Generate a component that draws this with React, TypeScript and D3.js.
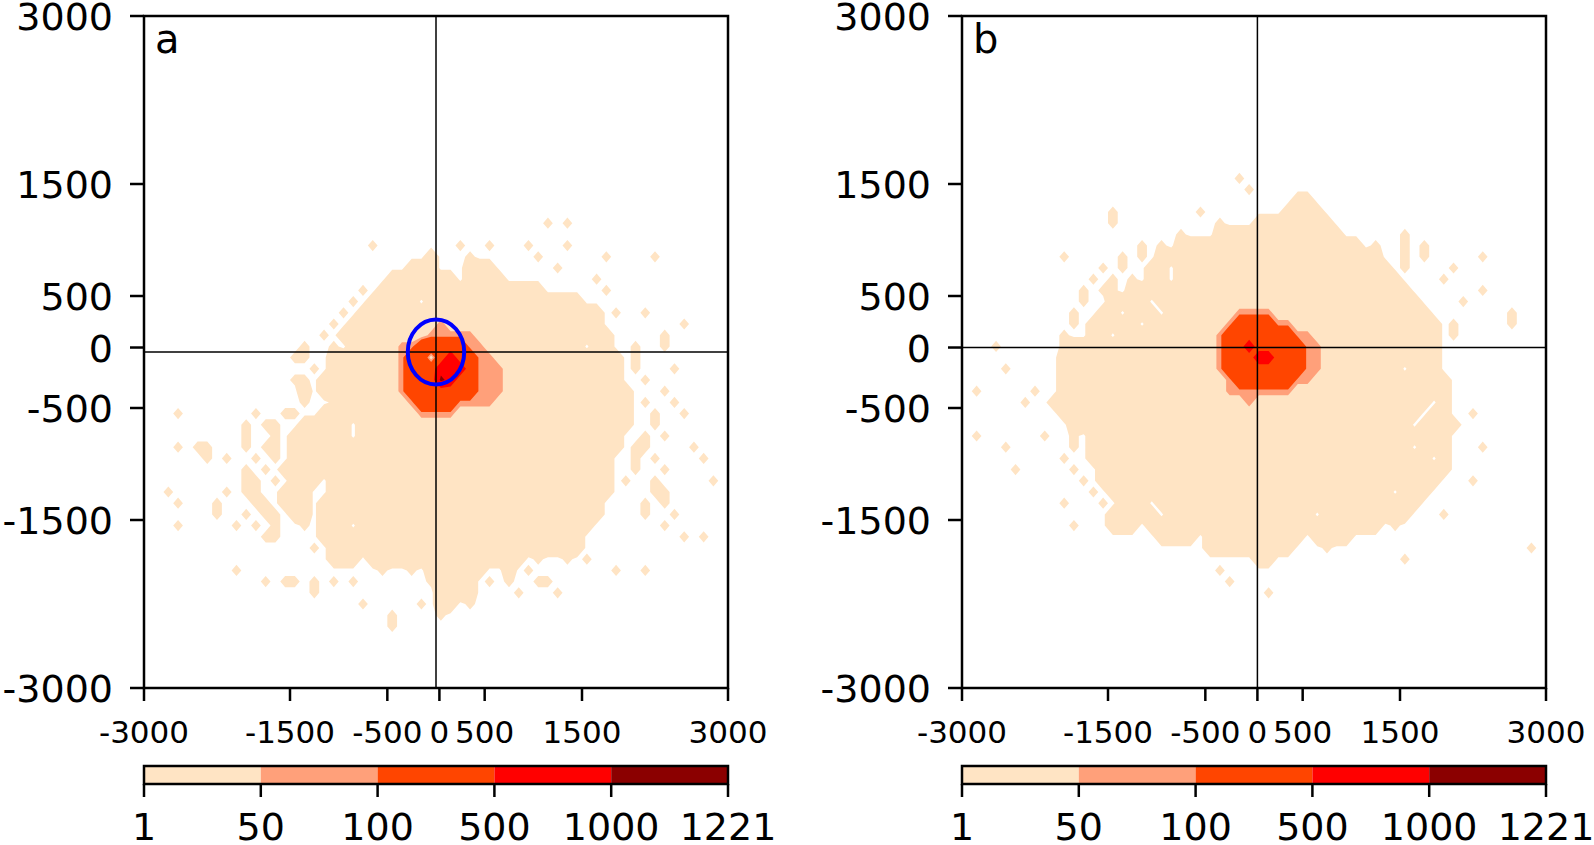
import React from "react";
import * as d3 from "d3";

const W = 1594;
const H = 845;
const N = 60; // 60 x 60 bins of 100 units, from -3000 to 3000

// colour levels shared by both panels and the colour bars
const levels = [1, 50, 100, 500, 1000, 1221];
const levelColors = ["bisque", "lightsalmon", "orangered", "red", "darkred"];

const xTickAt = [-3000, -1500, -500, 35, 500, 1500, 3000];
const xTickLabels = ["-3000", "-1500", "-500", "0", "500", "1500", "3000"];
const yTickAt = [3000, 1500, 500, 40, -500, -1500, -3000];
const yTickLabels = ["3000", "1500", "500", "0", "-500", "-1500", "-3000"];

// bin classes: . empty, 1 a few counts, 2 = 1-50,
// 3 = 50-100, 4 = 100-500, 5 = 500-1000, 6 = above 1000
const binCounts: Record<string, number> = { ".": 0, "1": 2, "2": 6, "3": 75, "4": 250, "5": 850, "6": 1100 };

// [row from the top, "col or col-col : class" runs]
const gridA: [number, string][] = [
  [18, "41:1 43:1"],
  [20, "23:1 32:1 35:1 39:1 43:1"],
  [21, "29:2 33:1 40:1 47:1 52:1"],
  [22, "27-29:2 33-35:2 42:1"],
  [23, "25-31:2 33-36:2 46:1"],
  [24, "22:1 24-40:2 47:1"],
  [25, "21:1 23-27:2 29-44:2"],
  [26, "20:1 22-46:2 48:1 51:1"],
  [27, "19:1 21-29:2 30:3 31-46:2 55:1"],
  [28, "18:1 20-28:2 29-33:3 34-47:2 53:1"],
  [29, "16:1 19:1 21-25:2 26-27:3 28-32:4 33-34:3 35-44:2 46-47:2 50:1 53:1"],
  [30, "15-16:1 19-25:2 26:3 27-28:4 29:2 30:4 31:5 32-33:4 34-35:3 36-48:2 50:1"],
  [31, "17:1 19-25:2 26:3 27-29:4 30-32:5 33:4 34-36:3 37-48:2 50:1 54:1"],
  [32, "15-16:1 18-25:2 26:3 27-29:4 30:6 31:5 32-33:4 34-36:3 37-48:2 51:1"],
  [33, "16:2 18-25:2 26:3 27-33:4 34-36:3 37-49:2 53:1"],
  [34, "16:1 19:1 20-26:2 27:3 28-31:4 32-35:3 36-49:2 51:1 54:1"],
  [35, "3:1 11:1 14-15:1 18-27:2 28-31:3 32-49:2 52:1 55:1"],
  [36, "10:1 12-13:1 16-20:2 22-49:2 52:1"],
  [37, "10:1 13:1 15-20:2 22-48:2 51:1 53:1"],
  [38, "3:1 5-6:1 10:1 12-13:1 15-48:2 50-51:1 56:1"],
  [39, "6:1 8:1 11:1 13:1 15-47:2 50:1 52:1 57:1"],
  [40, "10:1 12:1 14-47:2 50:1 53:1"],
  [41, "10-11:1 13:1 15-17:2 19-47:2 49:1 52:1 58:1"],
  [42, "2:1 8:1 10-11:1 14-16:2 19-47:2 52-53:1"],
  [43, "3:1 7:1 11-12:1 14-16:2 18-46:2 51:1 53:1"],
  [44, "7:1 10:1 12-13:1 15-16:2 18-46:2 51:1 54:1"],
  [45, "3:1 9:1 11:1 13:1 16:1 18-20:2 22-45:2 53:1"],
  [46, "12-13:1 18-44:2 55:1 57:1"],
  [47, "17:1 19-44:2"],
  [48, "19-21:2 23-38:2 40:1 43:1 45:1"],
  [49, "9:1 24:1 27:1 29-34:2 37:2 39:1 48:1 51:1"],
  [50, "12:1 14-15:1 17:1 19:1 21:1 29:1 30-33:2 35:1 37:1 40-41:1"],
  [51, "17:1 30-33:2 38:1 42:1"],
  [52, "22:1 28:1 30-31:2 33:1"],
  [53, "25:1 30:1"],
  [54, "25:1"],
];

const gridB: [number, string][] = [
  [14, "28:1"],
  [15, "29:1"],
  [16, "34-35:2"],
  [17, "15:1 24:1 33-36:2"],
  [18, "15:1 26:1 30-37:2"],
  [19, "22:1 26-38:2 45:1"],
  [20, "18:1 20:1 22-40:2 42:1 45:1 47:1"],
  [21, "10:1 16:1 18:1 20-42:2 45:1 47:1 53:1"],
  [22, "14:1 16:1 19-20:2 22-43:2 45:1 50:1"],
  [23, "13:1 15:1 17:1 19-20:2 22-44:2 49:1"],
  [24, "12:1 14-15:1 17-45:2 53:1"],
  [25, "12:1 15-18:2 20-46:2 51:1"],
  [26, "11:1 14-15:2 17-19:2 21-27:2 28-31:3 32-47:2 56:1"],
  [27, "11:1 13-17:2 19-26:2 27:3 28-31:4 32-33:3 34-48:2 50:1 56:1"],
  [28, "10:1 13-14:2 16-25:2 26:3 27-33:4 34-35:3 36-48:2 50:1"],
  [29, "3:1 10:1 11-25:2 26:3 27-28:4 29:5 30-34:4 35-36:3 37-48:2"],
  [30, "10-25:2 26:3 27-29:4 30-31:5 32-34:4 35-36:3 37-48:2"],
  [31, "4:1 10-25:2 26:3 27-34:4 35-36:3 37-44:2 46-48:2"],
  [32, "10-26:2 27:3 28-33:4 34-35:3 36-49:2"],
  [33, "1:1 7:1 10-26:2 27-33:3 34-49:2"],
  [34, "6:1 9-28:2 29:3 30-47:2 49:2"],
  [35, "10-46:2 48-49:2 52:1"],
  [36, "11-45:2 47-50:2"],
  [37, "1:1 8:1 11:1 13-49:2"],
  [38, "4:1 11:1 13-45:2 47-49:2 53:1"],
  [39, "10:1 13-47:2 49:2"],
  [40, "5:1 11:1 14-49:2"],
  [41, "12:1 14-48:2 52:1"],
  [42, "13:1 15-43:2 45-47:2"],
  [43, "10:1 14:1 16-18:2 20-46:2"],
  [44, "15-19:2 21-35:2 37-45:2 49:1"],
  [45, "11:1 15-17:2 19-42:2 44:1"],
  [46, "20-23:2 25-34:2 36-39:2"],
  [47, "25-33:2 37:1 58:1"],
  [48, "30-31:2 45:1"],
  [49, "26:1"],
  [50, "27:1"],
  [51, "31:1"],
];

const circleA = { x: 0, y: 0, r: 290 };
const crossA = [0, 0];
const crossB = [35, 40];

const FONT = "DejaVu Sans, sans-serif";
const TOP = 16;
const BOTTOM = 688;
const CB_TOP = 766;
const CB_BOTTOM = 784;

function parseGrid(rows: [number, string][]) {
  const values = new Array(N * N).fill(0);
  rows.forEach(([j, spec]) => {
    spec.split(" ").forEach((tok) => {
      const [range, code] = tok.split(":");
      const [a, b] = range.split("-").map(Number);
      for (let i = a; i <= (b ?? a); i++) values[i + j * N] = binCounts[code];
    });
  });
  return values;
}

function Panel({ left, right, grid, label, cross, circle }: any) {
  const sx = d3.scaleLinear().domain([-3000, 3000]).range([left, right]);
  const sy = d3.scaleLinear().domain([-3000, 3000]).range([BOTTOM, TOP]);
  const gx = d3.scaleLinear().domain([0, N]).range([-3000, 3000]);
  const gy = d3.scaleLinear().domain([0, N]).range([3000, -3000]);

  const contours = d3.contours().size([N, N]).thresholds(levels.slice(0, -1))(parseGrid(grid));
  const path = d3.geoPath(
    d3.geoTransform({
      point(x: number, y: number) {
        this.stream.point(sx(gx(x)), sy(gy(y)));
      },
    })
  );

  const cb = d3.scaleLinear().domain([0, levels.length - 1]).range([left, right]);

  return (
    <g>
      {contours.map((c, i) => (
        <path key={i} d={path(c as any) || ""} fill={levelColors[i]} fillRule="evenodd" />
      ))}
      <line x1={sx(cross[0])} x2={sx(cross[0])} y1={TOP} y2={BOTTOM} stroke="black" strokeWidth={1.5} />
      <line x1={left} x2={right} y1={sy(cross[1])} y2={sy(cross[1])} stroke="black" strokeWidth={1.5} />
      {circle && (
        <ellipse
          cx={sx(circle.x)}
          cy={sy(circle.y)}
          rx={sx(circle.r) - sx(0)}
          ry={sy(0) - sy(circle.r)}
          fill="none"
          stroke="#0000ff"
          strokeWidth={4}
        />
      )}
      <rect x={left} y={TOP} width={right - left} height={BOTTOM - TOP} fill="none" stroke="black" strokeWidth={2.5} />
      <text x={left + 11} y={53} fontFamily={FONT} fontSize={40}>
        {label}
      </text>

      {yTickAt.map((v, i) => (
        <g key={"y" + i}>
          <line x1={left - 14} x2={left} y1={sy(v)} y2={sy(v)} stroke="black" strokeWidth={2.5} />
          <text x={left - 31} y={sy(v) + 14} textAnchor="end" fontFamily={FONT} fontSize={38}>
            {yTickLabels[i]}
          </text>
        </g>
      ))}
      {xTickAt.map((v, i) => (
        <g key={"x" + i}>
          <line x1={sx(v)} x2={sx(v)} y1={BOTTOM} y2={BOTTOM + 13} stroke="black" strokeWidth={2.5} />
          <text x={sx(v)} y={743} textAnchor="middle" fontFamily={FONT} fontSize={31}>
            {xTickLabels[i]}
          </text>
        </g>
      ))}

      {levelColors.map((col, i) => (
        <rect key={"cb" + i} x={cb(i)} y={CB_TOP} width={cb(i + 1) - cb(i)} height={CB_BOTTOM - CB_TOP} fill={col} />
      ))}
      <rect x={left} y={CB_TOP} width={right - left} height={CB_BOTTOM - CB_TOP} fill="none" stroke="black" strokeWidth={2.5} />
      {levels.map((v, i) => (
        <g key={"cl" + i}>
          <line x1={cb(i)} x2={cb(i)} y1={CB_BOTTOM} y2={CB_BOTTOM + 13} stroke="black" strokeWidth={2.5} />
          <text x={cb(i)} y={840} textAnchor="middle" fontFamily={FONT} fontSize={38}>
            {v}
          </text>
        </g>
      ))}
    </g>
  );
}

export default function App() {
  return (
    <div style={{ position: "absolute", left: 0, top: 0 }}>
      <svg width={W} height={H} style={{ display: "block", background: "white" }}>
        <Panel left={144} right={728} grid={gridA} label="a" cross={crossA} circle={circleA} />
        <Panel left={962} right={1546} grid={gridB} label="b" cross={crossB} />
      </svg>
    </div>
  );
}
